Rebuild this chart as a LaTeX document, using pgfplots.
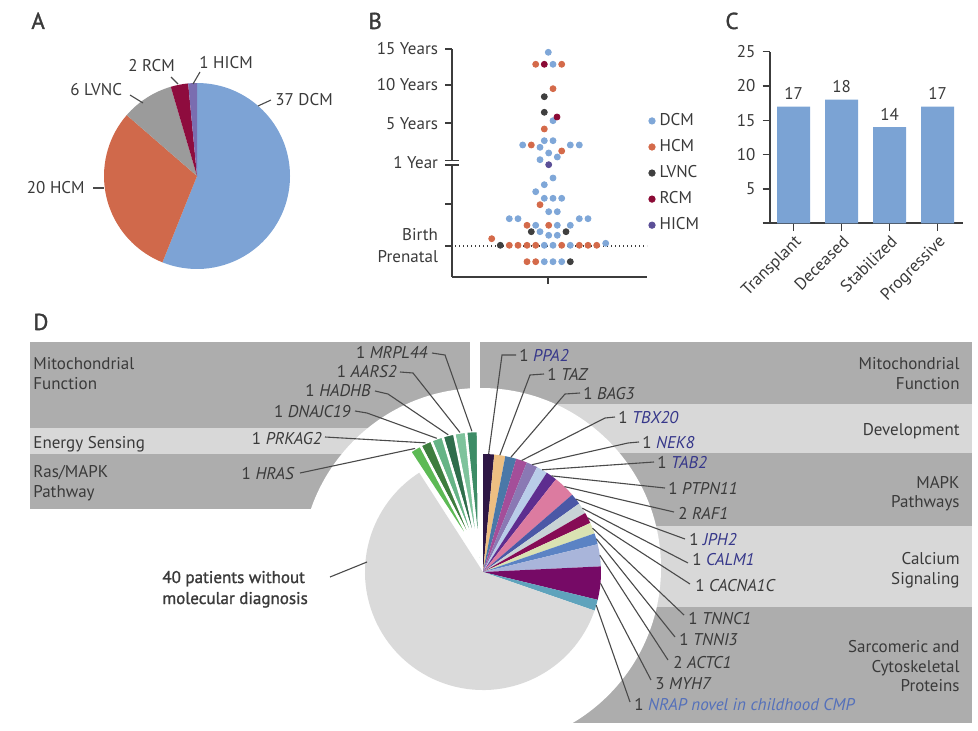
\documentclass[border=0pt]{standalone}
\usepackage{fontspec}
\setmainfont{PT Sans}
\newfontfamily\medfont{PT Sans}[FakeBold=1.3]
\usepackage{pgfplots}
\pgfplotsset{compat=1.18}

\definecolor{txt}{HTML}{3A3A3A}
\definecolor{axc}{HTML}{3C3C3C}
\definecolor{lead}{HTML}{4A4A4A}
\definecolor{gb}{HTML}{36378A}
\definecolor{nrapc}{HTML}{5470BA}
\definecolor{bandD}{HTML}{ADADAD}
\definecolor{bandL}{HTML}{D8D8D8}
\definecolor{grayW}{HTML}{DADADA}
% panel A
\definecolor{aDCM}{HTML}{7DA3D5}
\definecolor{aHCM}{HTML}{D0694B}
\definecolor{aLVNC}{HTML}{9B9B9B}
\definecolor{aRCM}{HTML}{8E0C3E}
\definecolor{aHICM}{HTML}{7A6DB0}
% panel B
\definecolor{bDCM}{HTML}{7FA7D8}
\definecolor{bHCM}{HTML}{D46A4A}
\definecolor{bLVNC}{HTML}{3F3F3F}
\definecolor{bRCM}{HTML}{8B0A35}
\definecolor{bHICM}{HTML}{5B4F97}
\definecolor{barc}{HTML}{7BA3D4}
% panel D, genes
\definecolor{g1}{HTML}{3D8C66}
\definecolor{g2}{HTML}{7EC39C}
\definecolor{g3}{HTML}{2F6E4C}
\definecolor{g4}{HTML}{66B486}
\definecolor{g5}{HTML}{3E7D3E}
\definecolor{g6}{HTML}{5DBA55}
\definecolor{r1}{HTML}{2E1745}
\definecolor{r2}{HTML}{EDBF82}
\definecolor{r3}{HTML}{4A78A8}
\definecolor{r4}{HTML}{A44E99}
\definecolor{r5}{HTML}{8A79B4}
\definecolor{r6}{HTML}{B9CDE9}
\definecolor{r7}{HTML}{5E2D8F}
\definecolor{r8}{HTML}{DC7BA0}
\definecolor{r9}{HTML}{4B58A6}
\definecolor{r10}{HTML}{C8D3D6}
\definecolor{r11}{HTML}{860B55}
\definecolor{r12}{HTML}{DAE2B2}
\definecolor{r13}{HTML}{5B83C4}
\definecolor{r14}{HTML}{A9B5DA}
\definecolor{r15}{HTML}{760A66}
\definecolor{r16}{HTML}{5FA3BC}

\newcommand\lab{\fontsize{8.5bp}{11bp}\selectfont}
\newcommand\pnl{\medfont\fontsize{11.5bp}{13bp}\selectfont}

% one pie slice of #4 patients out of 66; #5 is + or -
\newcommand\slice[7]{%
  \pgfmathsetmacro\nextA{\curA #5 #4*360/66}%
  \pgfmathsetmacro\midA{(\curA+\nextA)/2}%
  \expandafter\xdef\csname m#7\endcsname{\midA}%
  \edef\tmp{\noexpand\fill[#6] (axis cs:#1,#2) -- ++(\curA:#3)
    arc[start angle=\curA, end angle=\nextA, radius=#3] -- cycle;}%
  \tmp
  \xdef\curA{\nextA}%
}
% leader line from the outer edge of a slice
\newcommand\leader[5]{%
  \edef\tmp{\noexpand\draw[draw=lead, line width=0.55bp] (axis cs:#1,#2)
    ++(\csname m#4\endcsname:#3) #5;}%
  \tmp
}

\tikzset{lbl/.style={font=\lab, text=txt, inner sep=0pt}}

\begin{document}
\begin{tikzpicture}
\path[use as bounding box] (0,0) rectangle (489bp,365.5bp);

\begin{axis}[at={(0,0)}, anchor=south west, scale only axis,
    width=489bp, height=365.5bp,
    xmin=0, xmax=978, ymin=0, ymax=731, y dir=reverse,
    hide axis, clip=false]

% ---- panel D: pathway bands
\fill[bandD] (axis cs:30,342) rectangle (axis cs:470,428);
\fill[bandL] (axis cs:30,428) rectangle (axis cs:470,454);
\fill[bandD] (axis cs:30,454) rectangle (axis cs:470,509);
\fill[bandD] (axis cs:480,342) rectangle (axis cs:972,404);
\fill[bandL] (axis cs:480,404) rectangle (axis cs:972,453);
\fill[bandD] (axis cs:480,453) rectangle (axis cs:972,526);
\fill[bandL] (axis cs:480,526) rectangle (axis cs:972,607);
\fill[bandD] (axis cs:480,607) rectangle (axis cs:972,723);
\fill[white] (axis cs:481,568) circle[radius=90bp];

% ---- panel D: pie
\xdef\curA{90}
\slice{483}{572}{59bp}{1}{-}{fill=r1}{PPA2}
\slice{483}{572}{59bp}{1}{-}{fill=r2}{TAZ}
\slice{483}{572}{59bp}{1}{-}{fill=r3}{BAG3}
\slice{483}{572}{59bp}{1}{-}{fill=r4}{TBX20}
\slice{483}{572}{59bp}{1}{-}{fill=r5}{NEK8}
\slice{483}{572}{59bp}{1}{-}{fill=r6}{TAB2}
\slice{483}{572}{59bp}{1}{-}{fill=r7}{PTPN11}
\slice{483}{572}{59bp}{2}{-}{fill=r8}{RAF1}
\slice{483}{572}{59bp}{1}{-}{fill=r9}{JPH2}
\slice{483}{572}{59bp}{1}{-}{fill=r10}{CALM1}
\slice{483}{572}{59bp}{1}{-}{fill=r11}{CACNA1C}
\slice{483}{572}{59bp}{1}{-}{fill=r12}{TNNC1}
\slice{483}{572}{59bp}{1}{-}{fill=r13}{TNNI3}
\slice{483}{572}{59bp}{2}{-}{fill=r14}{ACTC1}
\slice{483}{572}{59bp}{3}{-}{fill=r15}{MYH7}
\slice{483}{572}{59bp}{1}{-}{fill=r16}{NRAP}
\slice{483}{572}{59bp}{40}{-}{fill=grayW}{none}
\xdef\curA{90.5}
\slice{479}{557}{63bp}{1}{+}{fill=g1, draw=white, line width=1.2bp}{MRPL44}
\slice{479}{557}{63bp}{1}{+}{fill=g2, draw=white, line width=1.2bp}{AARS2}
\slice{479}{557}{63bp}{1}{+}{fill=g3, draw=white, line width=1.2bp}{HADHB}
\slice{479}{557}{63bp}{1}{+}{fill=g4, draw=white, line width=1.2bp}{DNAJC19}
\slice{479}{557}{63bp}{1}{+}{fill=g5, draw=white, line width=1.2bp}{PRKAG2}
\slice{479}{557}{63bp}{1}{+}{fill=g6, draw=white, line width=1.2bp}{HRAS}

% ---- panel D: leaders
\leader{479}{557}{63bp}{MRPL44}{-- (axis cs:445,355) -- (axis cs:432,353)}
\leader{479}{557}{63bp}{AARS2}{-- (axis cs:413,373) -- (axis cs:400,372)}
\leader{479}{557}{63bp}{HADHB}{-- (axis cs:388,394) -- (axis cs:375,391)}
\leader{479}{557}{63bp}{DNAJC19}{-- (axis cs:367,413) -- (axis cs:355,411)}
\leader{479}{557}{63bp}{PRKAG2}{-- (axis cs:325,437)}
\leader{479}{557}{63bp}{HRAS}{-- (axis cs:300,473)}
\leader{483}{572}{59bp}{PPA2}{-- (axis cs:502,355) -- (axis cs:516,355)}
\leader{483}{572}{59bp}{TAZ}{-- (axis cs:530,375) -- (axis cs:544,374)}
\leader{483}{572}{59bp}{BAG3}{-- (axis cs:565,394) -- (axis cs:580,393)}
\leader{483}{572}{59bp}{TBX20}{-- (axis cs:605,418) -- (axis cs:615,417)}
\leader{483}{572}{59bp}{NEK8}{-- (axis cs:628,443) -- (axis cs:639,442)}
\leader{483}{572}{59bp}{TAB2}{-- (axis cs:654,462)}
\leader{483}{572}{59bp}{PTPN11}{-- (axis cs:665,488)}
\leader{483}{572}{59bp}{RAF1}{-- (axis cs:674,512)}
\leader{483}{572}{59bp}{JPH2}{-- (axis cs:685,539)}
\leader{483}{572}{59bp}{CALM1}{-- (axis cs:688,563)}
\leader{483}{572}{59bp}{CACNA1C}{-- (axis cs:690,584)}
\leader{483}{572}{59bp}{TNNC1}{-- (axis cs:684,615)}
\leader{483}{572}{59bp}{TNNI3}{-- (axis cs:675,637)}
\leader{483}{572}{59bp}{ACTC1}{-- (axis cs:668,660)}
\leader{483}{572}{59bp}{MYH7}{-- (axis cs:651,680)}
\leader{483}{572}{59bp}{NRAP}{-- (axis cs:630,702)}
\draw[draw=lead, line width=0.55bp] (axis cs:330,577) -- (axis cs:367,562);

% ---- panel D: gene labels
\node[lbl, anchor=base east] at (axis cs:428,358) {1 \textit{MRPL44}};
\node[lbl, anchor=base east] at (axis cs:397,377) {1 \textit{AARS2}};
\node[lbl, anchor=base east] at (axis cs:371,396) {1 \textit{HADHB}};
\node[lbl, anchor=base east] at (axis cs:351,417) {1 \textit{DNAJC19}};
\node[lbl, anchor=base east] at (axis cs:322,444) {1 \textit{PRKAG2}};
\node[lbl, anchor=base east] at (axis cs:295,479) {1 \textit{HRAS}};
\node[lbl, anchor=base west] at (axis cs:519,361) {1 \textcolor{gb}{\textit{PPA2}}};
\node[lbl, anchor=base west] at (axis cs:547,380) {1 \textit{TAZ}};
\node[lbl, anchor=base west] at (axis cs:583,399) {1 \textit{BAG3}};
\node[lbl, anchor=base west] at (axis cs:618,423) {1 \textcolor{gb}{\textit{TBX20}}};
\node[lbl, anchor=base west] at (axis cs:642,448) {1 \textcolor{gb}{\textit{NEK8}}};
\node[lbl, anchor=base west] at (axis cs:657,468) {1 \textcolor{gb}{\textit{TAB2}}};
\node[lbl, anchor=base west] at (axis cs:668,494) {1 \textit{PTPN11}};
\node[lbl, anchor=base west] at (axis cs:678,519) {2 \textit{RAF1}};
\node[lbl, anchor=base west] at (axis cs:689,545) {1 \textcolor{gb}{\textit{JPH2}}};
\node[lbl, anchor=base west] at (axis cs:692,565) {1 \textcolor{gb}{\textit{CALM1}}};
\node[lbl, anchor=base west] at (axis cs:695,591) {1 \textit{CACNA1C}};
\node[lbl, anchor=base west] at (axis cs:688,624) {1 \textit{TNNC1}};
\node[lbl, anchor=base west] at (axis cs:679,645) {1 \textit{TNNI3}};
\node[lbl, anchor=base west] at (axis cs:673,668) {2 \textit{ACTC1}};
\node[lbl, anchor=base west] at (axis cs:655,689) {3 \textit{MYH7}};
\node[lbl, anchor=base west] at (axis cs:634,710) {1 \textcolor{nrapc}{\textit{NRAP novel in childhood CMP}}};
\node[lbl, anchor=base west, font=\medfont\lab] at (axis cs:162,583) {40 patients without};
\node[lbl, anchor=base west, font=\medfont\lab] at (axis cs:162,604) {molecular diagnosis};

% ---- panel D: band names
\node[lbl, anchor=base west] at (axis cs:33,369) {Mitochondrial};
\node[lbl, anchor=base west] at (axis cs:33,389) {Function};
\node[lbl, anchor=base west] at (axis cs:33,448) {Energy Sensing};
\node[lbl, anchor=base west] at (axis cs:33,477) {Ras/MAPK};
\node[lbl, anchor=base west] at (axis cs:33,497) {Pathway};
\node[lbl, anchor=base east] at (axis cs:960,369) {Mitochondrial};
\node[lbl, anchor=base east] at (axis cs:960,389) {Function};
\node[lbl, anchor=base east] at (axis cs:960,435) {Development};
\node[lbl, anchor=base east] at (axis cs:960,488) {MAPK};
\node[lbl, anchor=base east] at (axis cs:960,507) {Pathways};
\node[lbl, anchor=base east] at (axis cs:960,564) {Calcium};
\node[lbl, anchor=base east] at (axis cs:960,584) {Signaling};
\node[lbl, anchor=base east] at (axis cs:960,652) {Sarcomeric and};
\node[lbl, anchor=base east] at (axis cs:960,672) {Cytoskeletal};
\node[lbl, anchor=base east] at (axis cs:960,691) {Proteins};

% ---- panel A: pie
\xdef\curA{90}
\slice{197}{176}{46.5bp}{37}{-}{fill=aDCM}{DCM}
\slice{197}{176}{46.5bp}{20}{-}{fill=aHCM}{HCM}
\slice{197}{176}{46.5bp}{6}{-}{fill=aLVNC}{LVNC}
\slice{197}{176}{46.5bp}{2}{-}{fill=aRCM}{RCM}
\slice{197}{176}{46.5bp}{1}{-}{fill=aHICM}{HICM}
\draw[draw=lead, line width=0.55bp] (axis cs:258,106) -- (axis cs:271,100);
\draw[draw=lead, line width=0.55bp] (axis cs:93,188) -- (axis cs:104,188);
\draw[draw=lead, line width=0.55bp] (axis cs:130,95) -- (axis cs:143,103);
\draw[draw=lead, line width=0.55bp] (axis cs:171,77) -- (axis cs:178,84);
\draw[draw=lead, line width=0.55bp] (axis cs:200,72) -- (axis cs:193,84);
\node[lbl, anchor=base west] at (axis cs:275,105) {37 DCM};
\node[lbl, anchor=base east] at (axis cs:85,193) {20 HCM};
\node[lbl, anchor=base west] at (axis cs:70,95) {6 LVNC};
\node[lbl, anchor=base west] at (axis cs:128,71) {2 RCM};
\node[lbl, anchor=base west] at (axis cs:199,68) {1 HICM};

% ---- panel letters
\node[lbl, font=\pnl, anchor=base west] at (axis cs:31,29) {A};
\node[lbl, font=\pnl, anchor=base west] at (axis cs:368,29) {B};
\node[lbl, font=\pnl, anchor=base west] at (axis cs:725,29) {C};
\node[lbl, font=\pnl, anchor=base west] at (axis cs:33,330) {D};
\end{axis}

% ---- panel B: age at presentation
\begin{axis}[at={(226bp,227bp)}, anchor=south west, scale only axis,
    width=97.5bp, height=114bp,
    xmin=0, xmax=195, ymin=0, ymax=228,
    axis x line*=bottom, axis y line*=left,
    axis line style={draw=axc, line width=0.8bp},
    tick style={draw=axc, line width=0.8bp},
    tick align=outside, major tick length=3.5bp,
    xtick={96}, xticklabels={{}},
    ytick={31,73,114.3,153.7,192,228},
    yticklabels={{Birth\\Prenatal},{},{1 Year},{5 Years},{10 Years},{15 Years}},
    yticklabel style={font=\lab, text=txt, align=right},
    clip=false,
    legend style={at={(axis cs:196,168)}, anchor=north west, draw=none,
        fill=none, font=\lab, row sep=1.5bp, inner sep=0pt,
        nodes={text=txt}},
    legend cell align=left,
    legend image code/.code={\fill[#1] (1.6bp,0bp) circle (1.6bp);},
    every axis plot/.append style={only marks, mark=*, mark size=1.5bp},
]
\addplot[color=bDCM] coordinates {
 (96.3,224.7) (101,212.7) (101,156.3) (92.3,136.3) (101,136.3)
 (70.7,132) (118.3,132) (127.3,132) (88,129.7) (96.7,124) (105.3,120)
 (88,117.3) (101,99) (92.3,92.3) (83.7,85.3) (92.3,78.7) (101,78.7)
 (109.7,78.7) (96.7,65.3) (105.3,65.3) (57.3,58.3) (66,58.3) (127.3,58.3)
 (136,58.3) (83.7,51.7) (105.3,51.7) (118.3,51.7) (88,45.3) (96.7,41.7)
 (105.3,41.7) (92.3,31.7) (101,31.7) (118.3,31.7) (153.7,33.7)
 (92.3,15.3) (101,15.3) (109.7,15.3)};
\addplot[color=bHCM] coordinates {
 (83.7,212.7) (109.7,212.7) (101,188.3) (92.3,148) (79.3,132) (109.7,126)
 (88,72.3) (75,51.7) (96.7,51.7) (39.7,38.3) (57.3,31.7) (66,31.7)
 (75,31.7) (83.7,31.7) (109.7,31.7) (127.3,31.7) (136,31.7) (144.7,31.7)
 (75,15.3) (83.7,15.3)};
\addplot[color=bLVNC] coordinates {
 (92.3,180.3) (92.3,164.7) (79.3,45.3) (114,45.3) (48.3,31.7) (118.3,15.3)};
\addplot[color=bRCM] coordinates {(92.3,212.7) (105,160)};
\addplot[color=bHICM] coordinates {(96.7,112.3)};
\legend{DCM,HCM,LVNC,RCM,HICM}
\addplot[axc, line width=0.6bp, dash pattern=on 0.7bp off 1.3bp, no marks,
    forget plot, sharp plot] coordinates {(3,31) (195,31)};
\fill[white] (axis cs:-9,112.8) rectangle (axis cs:9,115.9);
\draw[axc, line width=0.8bp] (axis cs:-7,112.2) -- (axis cs:7,112.2);
\draw[axc, line width=0.8bp] (axis cs:-7,116.6) -- (axis cs:7,116.6);
\end{axis}

% ---- panel C: outcome
\begin{axis}[at={(385bp,253.85bp)}, anchor=south west, scale only axis,
    width=96.5bp, height=85.8bp,
    ybar, bar width=16.5bp,
    xmin=-0.49, xmax=3.53, ymin=0, ymax=25,
    axis x line*=bottom, axis y line*=left,
    axis line style={draw=axc, line width=0.8bp},
    tick style={draw=axc, line width=0.8bp},
    tick align=outside, major tick length=3.75bp,
    xtick={0,1,2,3},
    xticklabels={Transplant,Deceased,Stabilized,Progressive},
    xticklabel style={rotate=45, anchor=north east, font=\lab, text=txt, inner sep=1bp},
    ytick={0,5,10,15,20,25}, yticklabels={{},5,10,15,20,25},
    yticklabel style={font=\lab, text=txt},
    /pgf/number format/assume math mode=true,
    nodes near coords,
    every node near coord/.append style={font=\lab, text=txt},
    clip=false]
\addplot[fill=barc, draw=none] coordinates {(0,17) (1,18) (2,14) (3,17)};
\end{axis}
\end{tikzpicture}
\end{document}
